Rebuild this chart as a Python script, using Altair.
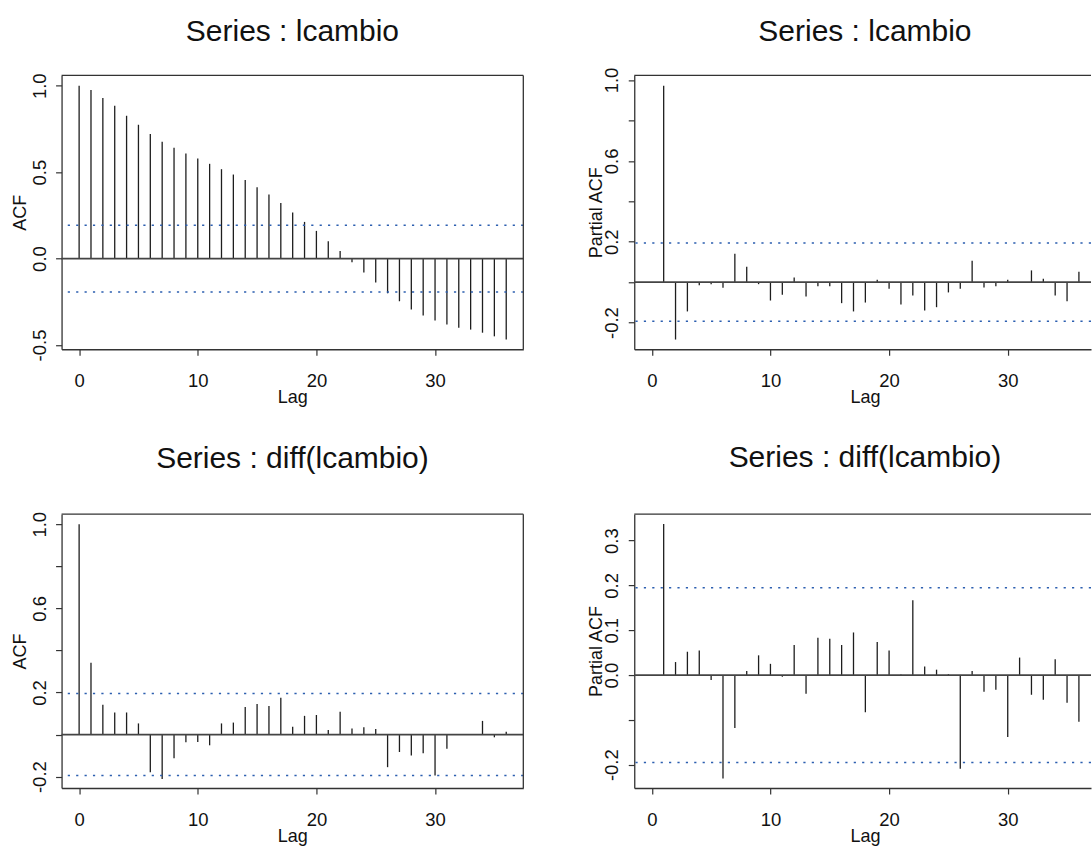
import altair as alt
import pandas as pd

FONT = "Liberation Sans"

# ---------------- data ----------------
lags_acf = list(range(0, 37))
lags_pacf = list(range(1, 37))

acf_lcambio = [1.0, 0.975, 0.929, 0.884, 0.826, 0.774, 0.720, 0.676, 0.641, 0.608,
               0.579, 0.548, 0.517, 0.486, 0.454, 0.413, 0.371, 0.322, 0.266, 0.212,
               0.160, 0.100, 0.044, -0.021, -0.081, -0.139, -0.201, -0.247, -0.295, -0.330,
               -0.359, -0.382, -0.400, -0.411, -0.429, -0.450, -0.469]
pacf_lcambio = [0.972, -0.284, -0.145, -0.015, -0.010, -0.028, 0.140, 0.076, -0.010, -0.091,
                -0.063, 0.023, -0.071, -0.021, -0.021, -0.104, -0.145, -0.101, 0.012, -0.033,
                -0.111, -0.066, -0.140, -0.124, -0.051, -0.033, 0.106, -0.026, -0.021, 0.012,
                -0.002, 0.058, 0.017, -0.066, -0.094, 0.051]
acf_diff = [1.0, 0.341, 0.142, 0.105, 0.105, 0.053, -0.179, -0.211, -0.112, -0.037,
            -0.035, -0.051, 0.053, 0.057, 0.131, 0.145, 0.136, 0.175, 0.037, 0.089,
            0.093, 0.022, 0.108, 0.029, 0.035, 0.026, -0.155, -0.083, -0.099, -0.089,
            -0.195, -0.067, 0.003, 0.002, 0.065, -0.013, 0.013]
pacf_diff = [0.337, 0.029, 0.052, 0.055, -0.011, -0.231, -0.118, 0.009, 0.044, 0.025,
             -0.004, 0.067, -0.042, 0.083, 0.081, 0.067, 0.095, -0.083, 0.074, 0.055,
             0.001, 0.167, 0.019, 0.012, 0.002, -0.209, 0.009, -0.037, -0.033, -0.138,
             0.039, -0.044, -0.055, 0.035, -0.062, -0.104]

conf_lcambio = 0.193
conf_diff = 0.195

x_ticks = [0, 10, 20, 30]
yt_tl = [-0.5, 0.0, 0.5, 1.0]
yl_tl = ["-0.5", "0.0", "0.5", "1.0"]
yt_tr = [-0.2, 0.0, 0.2, 0.4, 0.6, 0.8, 1.0]
yl_tr = ["-0.2", "0.2", "0.6", "1.0"]
yt_bl = [-0.2, 0.0, 0.2, 0.4, 0.6, 0.8, 1.0]
yl_bl = ["-0.2", "0.2", "0.6", "1.0"]
yt_br = [-0.2, -0.1, 0.0, 0.1, 0.2, 0.3]
yl_br = ["-0.2", "0.0", "0.1", "0.2", "0.3"]

# ---------------- styling ----------------
BAR = "#1e1e1e"
FRAME = "#333333"
BLUE = "#2c5fb0"
W_LEFT, W_RIGHT, H = 462, 457, 274

LBL = "(datum.value < 0 ? '-' + format(-datum.value, '.1f') : format(datum.value, '.1f'))"


def label_expr(shown):
    arr = ",".join("'" + s + "'" for s in shown)
    return f"indexof([{arr}], {LBL}) >= 0 ? {LBL} : ''"


def panel(lags, vals, conf, title, ytitle, xdom, ydom, yticks, ylabels,
          width, right_frame, title_offset, ytitle_x, title_dx):
    df = pd.DataFrame({"lag": lags, "value": vals})
    xax = alt.Axis(values=x_ticks, title="Lag", format="d", labelFlush=False,
                   labelOverlap=False, labelBaseline="alphabetic", labelPadding=31.4,
                   titleBaseline="alphabetic", titleY=53.4, titleX=(461.6) / 2)
    yax = alt.Axis(values=yticks, title=ytitle, labelExpr=label_expr(ylabels),
                   labelAngle=270, labelAlign="center", labelBaseline="alphabetic",
                   labelPadding=10.4, labelOverlap=False, labelFlush=False,
                   titleAngle=270, titleAlign="center", titleBaseline="alphabetic",
                   titleX=ytitle_x, titleY=H / 2)
    xs = alt.Scale(domain=xdom, nice=False, zero=False)
    ys = alt.Scale(domain=ydom, nice=False, zero=False)

    bars = alt.Chart(df).mark_rule(color=BAR, strokeWidth=1.3).encode(
        x=alt.X("lag:Q", scale=xs, axis=xax),
        y=alt.Y("value:Q", scale=ys, axis=yax),
        y2=alt.datum(0),
    )
    zero = alt.Chart(pd.DataFrame({"value": [0.0]})).mark_rule(
        color="#444444", strokeWidth=1.8).encode(y=alt.Y("value:Q", scale=ys, axis=yax))
    band = alt.Chart(pd.DataFrame({"value": [conf, -conf]})).mark_rule(
        color=BLUE, strokeWidth=1.5, strokeDash=[2.2, 6.2]).encode(
        y=alt.Y("value:Q", scale=ys, axis=yax))
    top = alt.Chart(pd.DataFrame({"value": [ydom[1]]})).mark_rule(
        color=FRAME, strokeWidth=1.3).encode(y=alt.Y("value:Q", scale=ys, axis=yax))
    layers = [bars, zero, band, top]
    if right_frame:
        rf = alt.Chart(pd.DataFrame({"lag": [xdom[1]]})).mark_rule(
            color=FRAME, strokeWidth=1.3).encode(x=alt.X("lag:Q", scale=xs, axis=xax))
        layers.append(rf)
    return alt.layer(*layers).properties(
        width=width, height=H,
        title=alt.TitleParams(text=title, fontSize=30, font=FONT, fontWeight="normal",
                              color="#111111", anchor="middle", frame="group",
                              baseline="alphabetic", offset=title_offset, dx=title_dx),
    )


XL = [-1.48, 37.44]
XR = [-1.48, -1.48 + W_RIGHT * (38.92 / W_LEFT)]

tl = panel(lags_acf, acf_lcambio, conf_lcambio, "Series : lcambio", "ACF",
           XL, [-0.5246, 1.0596], yt_tl, yl_tl, W_LEFT, True, 2, -35.7, 0)
tr = panel(lags_pacf, pacf_lcambio, conf_lcambio, "Series : lcambio", "Partial ACF",
           XR, [-0.332, 1.0228], yt_tr, yl_tr, W_RIGHT, False, -3.8, -32.6, 2.3)
bl = panel(lags_acf, acf_diff, conf_diff, "Series : diff(lcambio)", "ACF",
           XL, [-0.254, 1.048], yt_bl, yl_bl, W_LEFT, True, 13.5, -35.7, 0)
br = panel(lags_pacf, pacf_diff, conf_diff, "Series : diff(lcambio)", "Partial ACF",
           XR, [-0.252, 0.359], yt_br, yl_br, W_RIGHT, False, 17, -32.6, 2.3)

chart = alt.concat(tl, tr, bl, br, columns=2, spacing={"row": 165, "column": 111},
                   bounds="flush").properties(
    padding={"left": 11.6, "top": 16.2, "right": 0, "bottom": 0},
    background="white",
).configure_view(stroke=None).configure_axis(
    grid=False, domainColor=FRAME, domainWidth=1.3, tickColor=FRAME, tickWidth=1.2,
    tickSize=6, labelFont=FONT, titleFont=FONT, labelColor="#111111",
    titleColor="#111111", labelFontSize=18.5, titleFontSize=18, titleFontWeight="normal",
)

chart.save("out.html", embed_options={"renderer": "svg", "actions": False})
